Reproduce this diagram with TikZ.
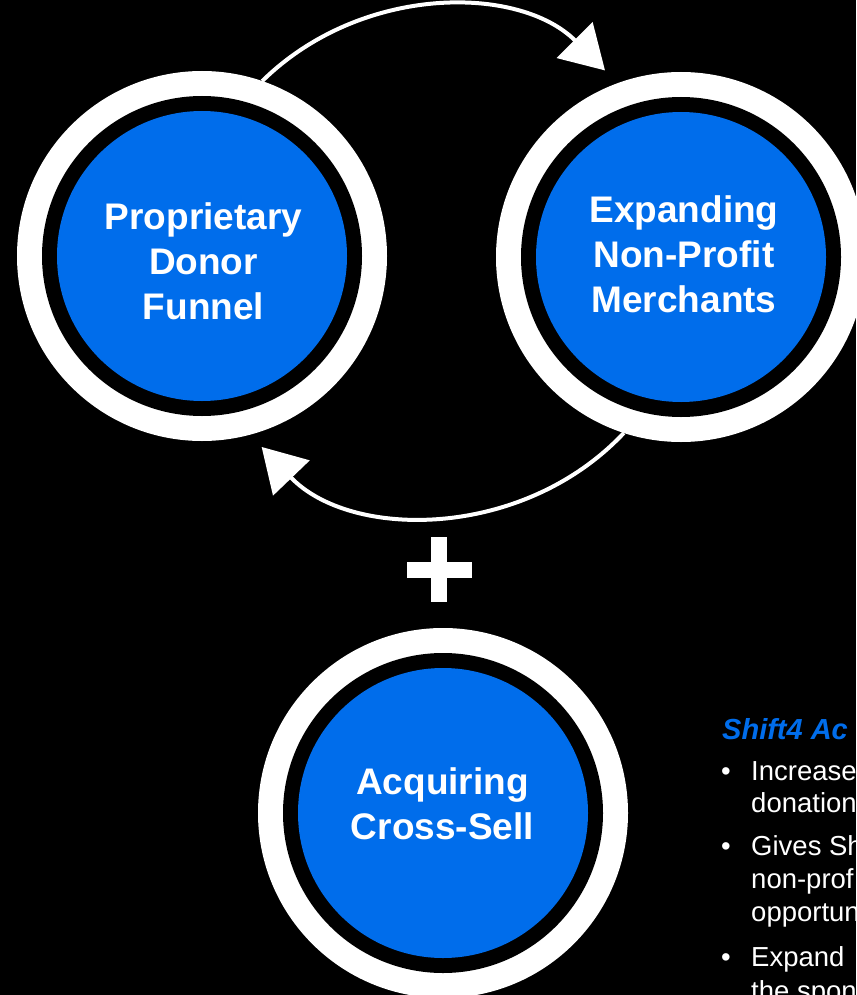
\documentclass[tikz,border=0pt]{standalone}
\usepackage{fontspec}
\setmainfont{Liberation Sans}
\usetikzlibrary{arrows.meta}
\definecolor{donorblue}{RGB}{0,109,235}

\tikzset{
  ring/.style={circle, minimum size=370pt, inner sep=0pt, outer sep=0pt, fill=white,
    path picture={
      \fill[black] (path picture bounding box.center) circle (160pt);
      \fill[donorblue] (path picture bounding box.center) circle (145pt);}},
  ringtext/.style={align=center, text=white, inner sep=0pt,
    font=\bfseries\fontsize{37}{45}\selectfont},
  looparrow/.style={white, line width=4pt, -{Triangle[length=43pt,width=50pt]}},
  pointtext/.style={anchor=base west, inner sep=0pt, text=white,
    font=\fontsize{27.5}{33}\selectfont}
}

\begin{document}
\begin{tikzpicture}[x=1pt, y=-1pt]
\fill[black] (0,0) rectangle (856,995);
\useasboundingbox (0,0) rectangle (856,995);
\clip (0,0) rectangle (856,995);

% rings
\node[ring] (funnel) at (202,256) {};
\node[ring] (merchants) at (681,257) {};
\node[ring] (crosssell) at (443,813) {};

\node[ringtext] (funnel text) at (203.5,261.5) {Proprietary\\Donor\\Funnel};
\node[ringtext] (merchants text) at (684,254.5) {Expanding\\Non-Profit\\Merchants};
\node[ringtext] (crosssell text) at (442.5,804) {Acquiring\\Cross-Sell};

% flywheel arrows
\draw[looparrow, shorten >=18pt] (funnel.71) to[out=44.5, in=135] (merchants.110);
\draw[looparrow, shorten >=17pt] (merchants.-108) to[out=-133.2, in=-46.2] (funnel.-75);

% plus
\fill[white] (431,537) rectangle (447,602);
\fill[white] (407,562) rectangle (472,578);

% side notes
\node[anchor=base west, inner sep=0pt, text=donorblue,
  font=\bfseries\itshape\fontsize{29}{35}\selectfont] (headline) at (722,739) {Shift4 Ac};
\node[pointtext] (dot1) at (721,780) {•};
\node[pointtext] (line1) at (751,780) {Increase};
\node[pointtext] (line2) at (751,812) {donation};
\node[pointtext] (dot2) at (721,855) {•};
\node[pointtext] (line3) at (751,855) {Gives Sh};
\node[pointtext] (line4) at (751,888) {non-prof};
\node[pointtext] (line5) at (751,921) {opportun};
\node[pointtext] (dot3) at (721,966) {•};
\node[pointtext] (line6) at (751,966) {Expand};
\node[pointtext] (line7) at (751,1000) {the spon};
\end{tikzpicture}
\end{document}
